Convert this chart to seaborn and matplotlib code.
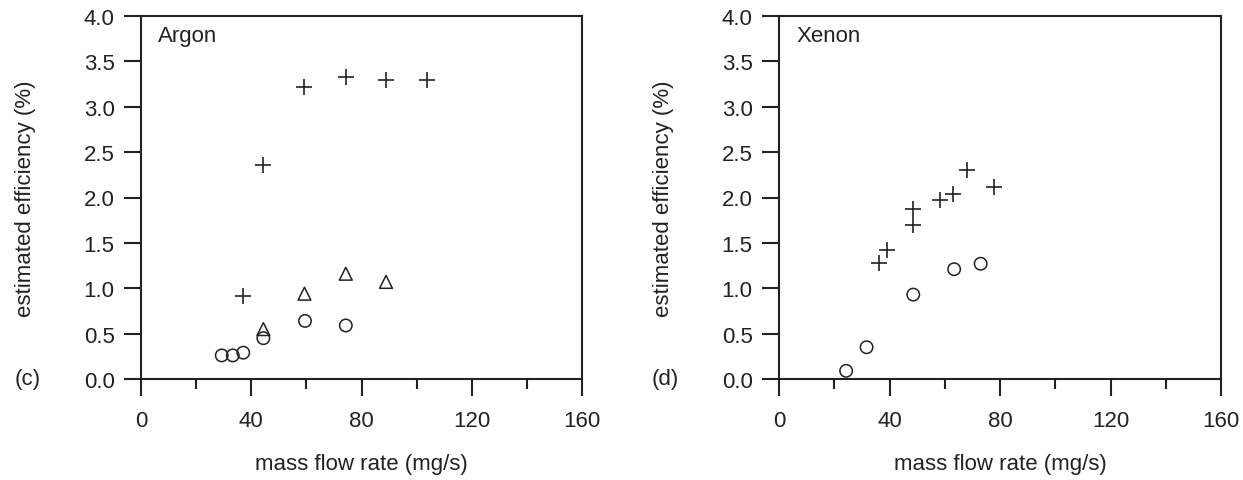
import matplotlib
matplotlib.use("Agg")
import matplotlib.pyplot as plt
import seaborn as sns

# Argon data
ar_plus_x = [36.9, 44.4, 59.1, 74.3, 88.9, 103.9]
ar_plus_y = [0.91, 2.36, 3.22, 3.33, 3.30, 3.30]
ar_tri_x = [44.4, 59.3, 74.3, 88.9]
ar_tri_y = [0.55, 0.94, 1.16, 1.07]
ar_circ_x = [29.3, 33.3, 37.1, 44.4, 59.5, 74.3]
ar_circ_y = [0.26, 0.26, 0.29, 0.45, 0.64, 0.59]

# Xenon data
xe_plus_x = [36.3, 39.0, 48.6, 48.6, 58.3, 63.1, 68.2, 77.9]
xe_plus_y = [1.28, 1.42, 1.70, 1.87, 1.97, 2.04, 2.30, 2.12]
xe_circ_x = [24.3, 31.7, 48.6, 63.4, 73.0]
xe_circ_y = [0.09, 0.35, 0.93, 1.21, 1.27]

x_ticks = [0, 40, 80, 120, 160]
y_ticks = [0.0, 0.5, 1.0, 1.5, 2.0, 2.5, 3.0, 3.5, 4.0]
x_label = "mass flow rate (mg/s)"
y_label = "estimated efficiency (%)"
panel_names = ["Argon", "Xenon"]
panel_tags = ["(c)", "(d)"]

sns.set_theme(style="ticks")
plt.rcParams['font.family'] = ['Liberation Sans', 'DejaVu Sans']
FS = 16
INK = "#222222"

fig = plt.figure(figsize=(12.43, 4.81), dpi=100)
W, H = 1243, 481
axL = fig.add_axes([141 / W, (H - 380) / H, 441 / W, 363 / H])
axR = fig.add_axes([779 / W, (H - 380) / H, 442 / W, 363 / H])

def style_axis(ax, name, tag, tag_x):
    ax.set_xlim(0, 160)
    ax.set_ylim(0, 4.0)
    ax.set_xticks(x_ticks)
    ax.set_xticks([20, 60, 100, 140], minor=True)
    ax.set_yticks(y_ticks)
    ax.set_yticklabels([f"{v:.1f}" for v in y_ticks])
    ax.set_xticklabels([str(v) for v in x_ticks])
    for s in ax.spines.values():
        s.set_visible(True)
        s.set_linewidth(1.5)
        s.set_color(INK)
    ax.tick_params(axis="x", which="major", direction="out", length=12, width=1.5,
                   pad=10, labelsize=FS, colors=INK)
    ax.tick_params(axis="x", which="minor", direction="out", length=7, width=1.5,
                   colors=INK)
    ax.tick_params(axis="y", which="major", direction="out", length=12, width=1.5,
                   pad=7, labelsize=FS, colors=INK)
    ax.set_xlabel(x_label, fontsize=FS, color=INK)
    ax.xaxis.set_label_coords(0.5, -0.205)
    ax.set_ylabel(y_label, fontsize=FS, color=INK)
    ax.yaxis.set_label_coords(-0.238, 0.5)
    ax.text(0.039, 0.975, name, transform=ax.transAxes, ha="left", va="top",
            fontsize=FS, color=INK)
    fig.text(tag_x / W, (H - 380) / H, tag, ha="left", va="center",
             fontsize=FS, color=INK)

mk = dict(edgecolor=INK, linewidth=1.1, legend=False, zorder=3)

sns.scatterplot(x=ar_plus_x, y=ar_plus_y, marker="+", s=120, color=INK,
                linewidth=1.2, legend=False, ax=axL)
sns.scatterplot(x=ar_tri_x, y=ar_tri_y, marker="^", s=85, facecolor="none", ax=axL, **mk)
sns.scatterplot(x=ar_circ_x, y=ar_circ_y, marker="o", s=80, facecolor="none", ax=axL, **mk)

sns.scatterplot(x=xe_plus_x, y=xe_plus_y, marker="+", s=120, color=INK,
                linewidth=1.2, legend=False, ax=axR)
sns.scatterplot(x=xe_circ_x, y=xe_circ_y, marker="o", s=80, facecolor="none", ax=axR, **mk)

style_axis(axL, panel_names[0], panel_tags[0], 15)
style_axis(axR, panel_names[1], panel_tags[1], 652)

fig.savefig("out.png", dpi=100)
